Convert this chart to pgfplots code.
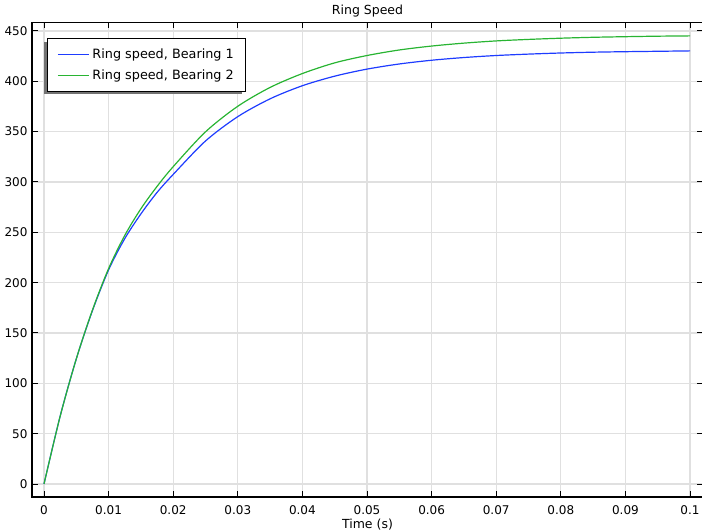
\documentclass[border=0pt]{standalone}
\usepackage{fontspec}
\setmainfont{DejaVu Sans}
\usepackage{pgfplots}
\pgfplotsset{compat=1.18}
\usetikzlibrary{shadows}
\definecolor{c1}{RGB}{30,60,255}
\definecolor{c2}{RGB}{40,180,50}
\definecolor{gridc}{RGB}{224,224,224}
\pgfplotstableread{
t v
0 0
0.0025 67.4
0.005 124.3
0.0075 172.2
0.01 212.7
0.0125 243.7
0.015 268.3
0.0175 289.6
0.02 307.5
0.025 340.7
0.03 364.9
0.035 382.6
0.04 395.6
0.045 405.1
0.05 412.1
0.055 417.2
0.06 420.9
0.065 423.6
0.07 425.6
0.075 427.0
0.08 428.1
0.085 428.9
0.09 429.4
0.095 429.8
0.1 430.2
}\bearingone
\pgfplotstableread{
t v
0 0
0.0025 67.2
0.005 124.3
0.0075 172.8
0.01 214.0
0.0125 246.9
0.015 273.4
0.0175 295.6
0.02 315.2
0.025 349.8
0.03 375.2
0.035 393.9
0.04 407.7
0.045 418.3
0.05 425.6
0.055 431.1
0.06 435.0
0.065 437.9
0.07 440.1
0.075 441.6
0.08 442.8
0.085 443.7
0.09 444.3
0.095 444.8
0.1 445.1
}\bearingtwo
\begin{document}
\begin{tikzpicture}
\begin{axis}[
  scale only axis, width=671pt, height=474.5pt,
  xmin=-0.001858, xmax=0.10201, ymin=-12.9, ymax=458.4,
  xtick={0,0.01,0.02,0.03,0.04,0.05,0.06,0.07,0.08,0.09,0.1},
  ytick={0,50,100,150,200,250,300,350,400,450},
  scaled x ticks=false,
  /pgf/number format/assume math mode=true,
  xticklabel style={/pgf/number format/fixed, /pgf/number format/precision=2, anchor=base, yshift=-18pt, font=\fontsize{12}{14}\selectfont},
  yticklabel style={anchor=east, xshift=-1pt, font=\fontsize{12}{14}\selectfont},
  tick align=inside, tick pos=both,
  major tick length=6pt,
  every tick/.style={black, line width=1pt},
  grid=major,
  major grid style={gridc, line width=1.3pt},
  axis line style={black, line width=1.2pt},
  title={Ring Speed},
  every axis title/.style={at={(axis description cs:0.5,1)}, anchor=base, yshift=7.5pt, font=\fontsize{12.5}{15}\selectfont},
  xlabel={Time (s)},
  every axis x label/.style={at={(axis description cs:0.5,0)}, anchor=base, yshift=-31.5pt, font=\fontsize{12.5}{15}\selectfont},
  legend cell align=left,
  legend style={at={(axis description cs:0,1)}, anchor=north west, xshift=15pt, yshift=-15.5pt,
    draw=black, line width=1.1pt, fill=white, font=\fontsize{12.8}{15}\selectfont,
    inner xsep=10pt, inner ysep=8pt, row sep=6.5pt, column sep=1pt,
    nodes={inner sep=2pt},
    drop shadow={shadow xshift=-4pt, shadow yshift=-3pt, fill=black!55, opacity=1}},
  legend image code/.code={\begin{scope}[#1, line width=0.9pt]\pgfpathmoveto{\pgfpoint{0pt}{0pt}}\pgfpathlineto{\pgfpoint{31pt}{0pt}}\pgfusepath{stroke}\end{scope}},
]
\addplot[c1, line width=1.2pt, smooth] table[x=t, y=v] {\bearingone};
\addlegendentry{Ring speed, Bearing 1}
\addplot[c2, line width=1.2pt, smooth] table[x=t, y=v] {\bearingtwo};
\addlegendentry{Ring speed, Bearing 2}
\end{axis}
\pgfresetboundingbox
\path[use as bounding box] ([xshift=-32pt,yshift=-35pt]current axis.south west) rectangle ([xshift=-1pt,yshift=22.5pt]current axis.north east);
\end{tikzpicture}
\end{document}
